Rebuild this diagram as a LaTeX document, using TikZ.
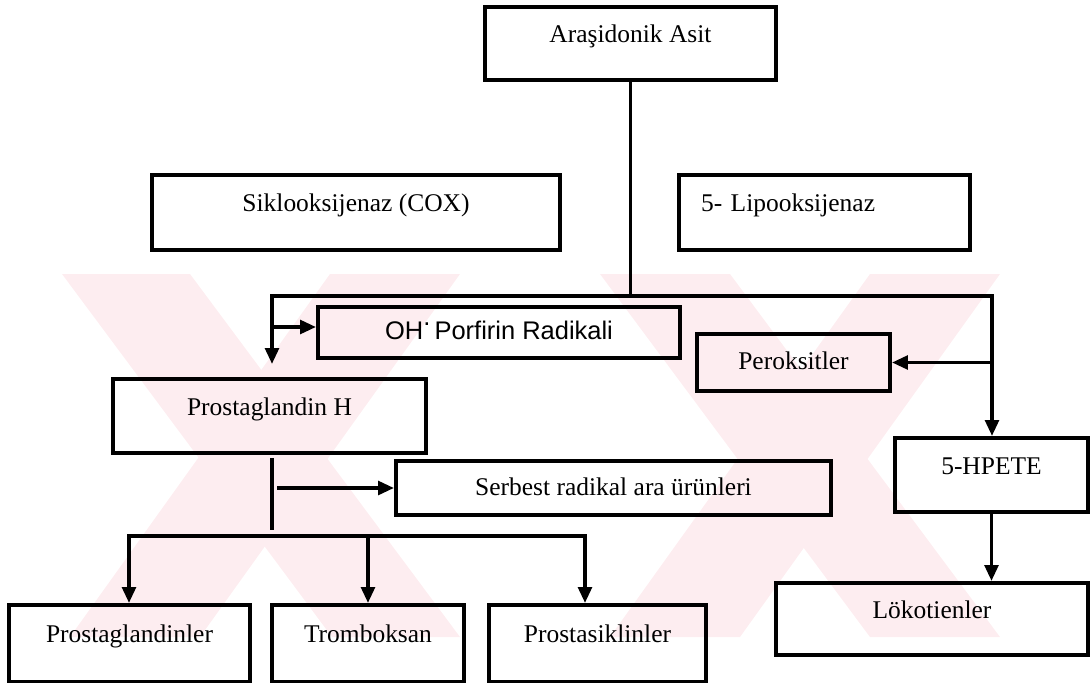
\documentclass[tikz,border=0pt]{standalone}
\usepackage{fontspec}
\setmainfont{Liberation Serif}
\newfontfamily\ohfont{Liberation Sans}
\usetikzlibrary{arrows.meta, positioning}
\definecolor{wmpink}{RGB}{253,237,240}

\begin{document}
\begin{tikzpicture}[x=0.02cm, y=-0.02cm,
  box/.style={draw, line width=2.2pt, inner sep=0pt, font=\fontsize{14.5}{17}\selectfont,
    text height=0.38cm, text depth=0.1cm},
  up/.style={text depth=0.42cm},
  link/.style={line width=2.2pt},
  arr/.style={link, -{Triangle[length=0.32cm, width=0.27cm]}}]

  \useasboundingbox (0,0) rectangle (1090,683);

  % faint watermark
  \fill[wmpink] (62,274) -- (190,274) -- (460,637) -- (332,637) -- cycle;
  \fill[wmpink] (330,274) -- (460,274) -- (200,637) -- (70,637) -- cycle;
  \fill[wmpink] (600,274) -- (730,274) -- (1000,637) -- (870,637) -- cycle;
  \fill[wmpink] (870,274) -- (1000,274) -- (740,637) -- (610,637) -- cycle;

  \node[box, up, minimum width=5.82cm, minimum height=1.46cm] (asit) at (630.5,43.5) {Araşidonik Asit};
  \node[box, up, minimum width=8.16cm, minimum height=1.5cm] (cox) at (356,212.5) {Siklooksijenaz (COX)};
  \node[box, up, text width=4.94cm, inner xsep=0.44cm, align=left, minimum height=1.5cm] (lox) at (824.5,212.5) {5- Lipooksijenaz};
  \node[box, font=\ohfont\fontsize{14.5}{17}\selectfont, minimum width=7.24cm, minimum height=1.02cm] (oh) at (499,332.5) {OH\raisebox{0.55em}{.}\,Porfirin Radikali};
  \node[box, minimum width=3.86cm, minimum height=1.14cm] (perok) at (793.5,362.5) {Peroksitler};
  \node[box, up, minimum width=6.26cm, minimum height=1.48cm] (pgh) at (269.5,416) {Prostaglandin H};
  \node[box, minimum width=8.7cm, minimum height=1.08cm] (serb) at (613.5,488) {Serbest radikal ara ürünleri};
  \node[box, up, minimum width=3.86cm, minimum height=1.48cm] (hpete) at (991.5,475) {5-HPETE};
  \node[box, up, minimum width=6.24cm, minimum height=1.44cm] (lok) at (932,619) {Lökotienler};
  \node[box, up, minimum width=4.82cm, minimum height=1.54cm] (pgs) at (129.5,643.5) {Prostaglandinler};
  \node[box, up, minimum width=3.84cm, minimum height=1.54cm] (trom) at (368,643.5) {Tromboksan};
  \node[box, up, minimum width=4.34cm, minimum height=1.54cm] (psik) at (597.5,643.5) {Prostasiklinler};

  \coordinate (topL) at (272,296);
  \coordinate (topR) at (992,296);
  \coordinate (botL) at (129,536);
  \coordinate (botR) at (585,536);

  \draw[link] (asit.south) -- (asit.south |- topL);
  \draw[arr, shorten >=0.26cm] (topR) -- (topL) -- (topL |- pgh.north);
  \draw[arr] (topL) -- (topR) -- (topR |- hpete.north);
  \path (oh.west) ++(0,-5.5) coordinate (ohin);
  \draw[arr] (topL |- ohin) -- (ohin);
  \draw[arr] (topR |- perok.east) -- (perok.east);

  \draw[link] (topL |- pgh.south) ++(0,3) -- ++(0,72);
  \draw[arr] (topL |- serb.west) ++(5,0) -- (serb.west);

  \draw[arr] (botR) -- (botL) -- (botL |- pgs.north);
  \draw[arr] (botL) -- (botR) -- (botR |- psik.north);
  \draw[arr] (trom.north |- botL) -- (trom.north);
  \draw[arr] (hpete.south) -- (hpete.south |- lok.north);

\end{tikzpicture}
\end{document}
